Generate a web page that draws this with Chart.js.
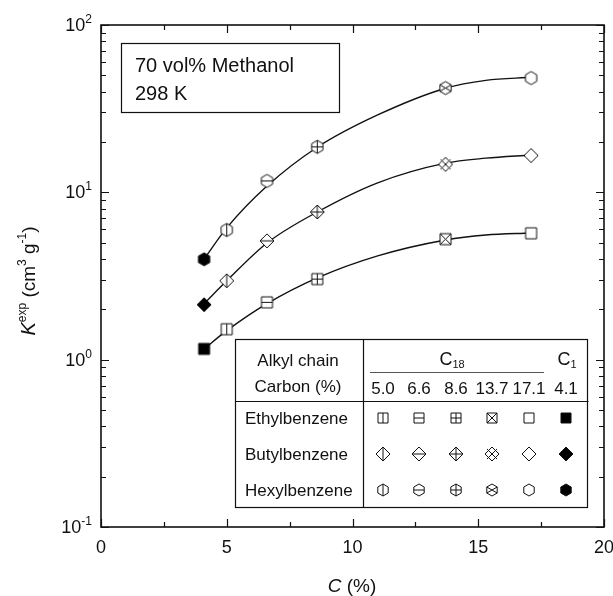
<!DOCTYPE html>
<html>
<head>
<meta charset="utf-8">
<script src="https://cdn.jsdelivr.net/npm/chart.js@4.4.1/dist/chart.umd.min.js"></script>
<style>
  html, body { margin: 0; padding: 0; background: #fff; }
</style>
</head>
<body>
<canvas id="chart" width="613" height="596"></canvas>
<script>
// carbon content (%) of each stationary phase, and K exp values
const carbon = [4.1, 5.0, 6.6, 8.6, 13.7, 17.1];
const ethylK = [1.16, 1.52, 2.2, 3.03, 5.25, 5.69];
const butylK = [2.13, 2.96, 5.13, 7.63, 14.7, 16.6];
const hexylK = [3.98, 5.96, 11.7, 18.7, 42.0, 48.2];
// marker decoration per carbon value (same order as carbon)
const decor = ['fill', 'vline', 'hline', 'plus', 'cross', 'none'];

// fitted curves
const fitC = [4.1, 5.0, 6.6, 8.6, 11.0, 13.7, 15.3, 17.1];
const ethylFit = [1.16, 1.49, 2.16, 3.08, 4.17, 5.19, 5.56, 5.72];
const butylFit = [2.16, 2.96, 4.98, 7.63, 11.4, 14.95, 16.0, 16.7];
const hexylFit = [4.00, 6.13, 10.9, 18.6, 29.0, 41.9, 46.7, 48.7];

const xTicks = [0, 5, 10, 15, 20];
const xMinor = [2.5, 7.5, 12.5, 17.5];
const yExponents = [-1, 0, 1, 2];

// legend table
const tableCols = ['5.0', '6.6', '8.6', '13.7', '17.1', '4.1'];
const tableDecor = ['vline', 'hline', 'plus', 'cross', 'none', 'fill'];
const tableRows = ['Ethylbenzene', 'Butylbenzene', 'Hexylbenzene'];
const tableShapes = ['square', 'diamond', 'hexagon'];

const FONT = '"Liberation Sans", Arial, sans-serif';

function shapePath(ctx, shape, r) {
  ctx.beginPath();
  if (shape === 'square') {
    ctx.rect(-r, -r, 2 * r, 2 * r);
  } else if (shape === 'diamond') {
    ctx.moveTo(0, -r); ctx.lineTo(r, 0); ctx.lineTo(0, r); ctx.lineTo(-r, 0);
    ctx.closePath();
  } else {
    for (let i = 0; i < 6; i++) {
      const a = Math.PI / 2 + i * Math.PI / 3;
      const px = r * Math.cos(a), py = r * Math.sin(a);
      if (i === 0) ctx.moveTo(px, py); else ctx.lineTo(px, py);
    }
    ctx.closePath();
  }
}

function makeMarker(shape, deco, r) {
  const size = Math.ceil(2 * r + 4);
  const c = document.createElement('canvas');
  c.width = size; c.height = size;
  const ctx = c.getContext('2d');
  ctx.translate(size / 2, size / 2);
  ctx.lineWidth = 1;
  ctx.strokeStyle = '#111';
  shapePath(ctx, shape, r);
  ctx.fillStyle = deco === 'fill' ? '#000' : '#fff';
  ctx.fill();
  ctx.stroke();
  if (deco === 'fill' || deco === 'none') return c;

  // extent of inner lines
  let hx = r, vy = r;
  if (shape === 'hexagon') hx = r * Math.cos(Math.PI / 6);
  ctx.beginPath();
  if (deco === 'vline' || deco === 'plus') { ctx.moveTo(0, -vy); ctx.lineTo(0, vy); }
  if (deco === 'hline' || deco === 'plus') { ctx.moveTo(-hx, 0); ctx.lineTo(hx, 0); }
  if (deco === 'cross') {
    if (shape === 'square') {
      ctx.moveTo(-r, -r); ctx.lineTo(r, r); ctx.moveTo(r, -r); ctx.lineTo(-r, r);
    } else if (shape === 'hexagon') {
      const dx = r * Math.cos(Math.PI / 6), dy = r * 0.5;
      ctx.moveTo(-dx, -dy); ctx.lineTo(dx, dy); ctx.moveTo(dx, -dy); ctx.lineTo(-dx, dy);
    } else {
      const d = r * 0.72;
      ctx.moveTo(-d, -d); ctx.lineTo(d, d); ctx.moveTo(d, -d); ctx.lineTo(-d, d);
    }
  }
  ctx.stroke();
  return c;
}

const plotR = { square: 5.5, diamond: 7, hexagon: 6.5 };
const tableR = { square: 5, diamond: 7, hexagon: 6 };

const series = [
  { name: 'Ethylbenzene', shape: 'square', values: ethylK, fit: ethylFit },
  { name: 'Butylbenzene', shape: 'diamond', values: butylK, fit: butylFit },
  { name: 'Hexylbenzene', shape: 'hexagon', values: hexylK, fit: hexylFit }
];

const datasets = [];
series.forEach(s => {
  // fitted curve
  datasets.push({
    label: s.name + ' fit',
    data: fitC.map((c, i) => ({ x: c, y: s.fit[i] })),
    borderColor: '#111',
    borderWidth: 1.4,
    pointRadius: 0,
    cubicInterpolationMode: 'monotone',
    fill: false,
    order: 2
  });
  // measured points
  datasets.push({
    label: s.name,
    data: carbon.map((c, i) => ({ x: c, y: s.values[i] })),
    showLine: false,
    pointStyle: decor.map(d => makeMarker(s.shape, d, plotR[s.shape])),
    pointRadius: 7,
    order: 1
  });
});

// superscript text helper: parts = [[text, size, raise, italic]]
function drawParts(ctx, parts, x, y, align) {
  let total = 0;
  parts.forEach(p => {
    ctx.font = (p[3] ? 'italic ' : '') + p[1] + 'px ' + FONT;
    total += ctx.measureText(p[0]).width;
  });
  let cx = align === 'center' ? x - total / 2 : align === 'right' ? x - total : x;
  ctx.textAlign = 'left';
  ctx.textBaseline = 'alphabetic';
  parts.forEach(p => {
    ctx.font = (p[3] ? 'italic ' : '') + p[1] + 'px ' + FONT;
    ctx.fillText(p[0], cx, y - p[2]);
    cx += ctx.measureText(p[0]).width;
  });
}

const framePlugin = {
  id: 'frame',
  afterDatasetsDraw(chart) {
    const ctx = chart.ctx;
    const a = chart.chartArea;
    const xs = chart.scales.x, ys = chart.scales.y;
    ctx.save();
    ctx.fillStyle = '#111';
    ctx.strokeStyle = '#111';

    // text box
    ctx.lineWidth = 1.2;
    ctx.fillStyle = '#fff';
    ctx.fillRect(121.5, 43.5, 218, 69);
    ctx.strokeRect(121.5, 43.5, 218, 69);
    ctx.fillStyle = '#111';
    ctx.font = '20px ' + FONT;
    ctx.textAlign = 'left';
    ctx.textBaseline = 'alphabetic';
    ctx.fillText('70 vol% Methanol', 135, 72);
    ctx.fillText('298 K', 135, 100);

    // legend table
    const tL = 235.5, tR = 587.5, tT = 339.5, tB = 507.5, tDiv = 363.5, tH = 401.5;
    ctx.fillStyle = '#fff';
    ctx.fillRect(tL, tT, tR - tL, tB - tT);
    ctx.strokeRect(tL, tT, tR - tL, tB - tT);
    ctx.beginPath();
    ctx.moveTo(tDiv, tT); ctx.lineTo(tDiv, tB);
    ctx.moveTo(tL, tH); ctx.lineTo(tR + 1, tH);
    ctx.stroke();
    ctx.lineWidth = 1;
    ctx.strokeStyle = '#555';
    ctx.beginPath();
    ctx.moveTo(370, 372.5); ctx.lineTo(544, 372.5);
    ctx.stroke();
    ctx.strokeStyle = '#111';
    ctx.fillStyle = '#111';
    ctx.font = '17px ' + FONT;
    ctx.textAlign = 'center';
    ctx.fillText('Alkyl chain', 298, 366);
    ctx.fillText('Carbon (%)', 298, 392);
    drawParts(ctx, [['C', 18, 0], ['18', 11, -3]], 452, 365, 'center');
    drawParts(ctx, [['C', 18, 0], ['1', 11, -3]], 567, 365, 'center');
    const colX = [383, 419, 456, 492, 529, 566];
    ctx.font = '17px ' + FONT;
    ctx.textAlign = 'center';
    tableCols.forEach((t, i) => ctx.fillText(t, colX[i], 394));
    const rowY = [418, 454, 490];
    ctx.textAlign = 'left';
    tableRows.forEach((t, j) => {
      ctx.fillText(t, 245, rowY[j] + 6);
      tableDecor.forEach((d, i) => {
        const m = makeMarker(tableShapes[j], d, tableR[tableShapes[j]]);
        ctx.drawImage(m, Math.round(colX[i] - m.width / 2), Math.round(rowY[j] - m.height / 2));
      });
    });

    // frame
    ctx.lineWidth = 1.6;
    ctx.strokeRect(a.left, a.top, a.right - a.left, a.bottom - a.top);

    // x ticks (bottom and top, inward)
    ctx.lineWidth = 1.2;
    ctx.beginPath();
    xTicks.forEach(v => {
      const px = Math.round(xs.getPixelForValue(v)) + 0.5;
      ctx.moveTo(px, a.bottom); ctx.lineTo(px, a.bottom - 8);
      ctx.moveTo(px, a.top); ctx.lineTo(px, a.top + 8);
    });
    xMinor.forEach(v => {
      const px = Math.round(xs.getPixelForValue(v)) + 0.5;
      ctx.moveTo(px, a.bottom); ctx.lineTo(px, a.bottom - 5);
      ctx.moveTo(px, a.top); ctx.lineTo(px, a.top + 5);
    });
    // y ticks (left and right, inward)
    yExponents.forEach(e => {
      const py = Math.round(ys.getPixelForValue(Math.pow(10, e))) + 0.5;
      ctx.moveTo(a.left, py); ctx.lineTo(a.left + 8, py);
      ctx.moveTo(a.right, py); ctx.lineTo(a.right - 8, py);
      if (e < 2) {
        for (let k = 2; k <= 9; k++) {
          const pm = Math.round(ys.getPixelForValue(k * Math.pow(10, e))) + 0.5;
          ctx.moveTo(a.left, pm); ctx.lineTo(a.left + 5, pm);
          ctx.moveTo(a.right, pm); ctx.lineTo(a.right - 5, pm);
        }
      }
    });
    ctx.stroke();

    // tick labels
    ctx.fillStyle = '#111';
    ctx.font = '18px ' + FONT;
    ctx.textAlign = 'center';
    xTicks.forEach(v => ctx.fillText(String(v), xs.getPixelForValue(v), 553));
    yExponents.forEach(e => {
      const py = ys.getPixelForValue(Math.pow(10, e));
      drawParts(ctx, [['10', 18, 0], [String(e), 12, 8]], 92, py + 6, 'right');
    });

    // axis titles
    drawParts(ctx, [['C', 19, 0, true], [' (%)', 19, 0]], 352, 592, 'center');
    ctx.save();
    ctx.translate(35, 281);
    ctx.rotate(-Math.PI / 2);
    drawParts(ctx, [['K', 20, 0, true], ['exp', 12, 9], [' (cm', 19, 0], ['3', 12, 9],
      [' g', 19, 0], ['-1', 12, 9], [')', 19, 0]], 0, 0, 'center');
    ctx.restore();

    ctx.restore();
  }
};

new Chart(document.getElementById('chart'), {
  type: 'line',
  data: { datasets: datasets },
  options: {
    responsive: false,
    animation: false,
    devicePixelRatio: 1,
    layout: { padding: { left: 101, right: 9, top: 25, bottom: 69 } },
    plugins: { legend: { display: false }, tooltip: { enabled: false } },
    scales: {
      x: { type: 'linear', min: 0, max: 20, display: false },
      y: { type: 'logarithmic', min: 0.1, max: 100, display: false }
    }
  },
  plugins: [framePlugin]
});
</script>
</body>
</html>
